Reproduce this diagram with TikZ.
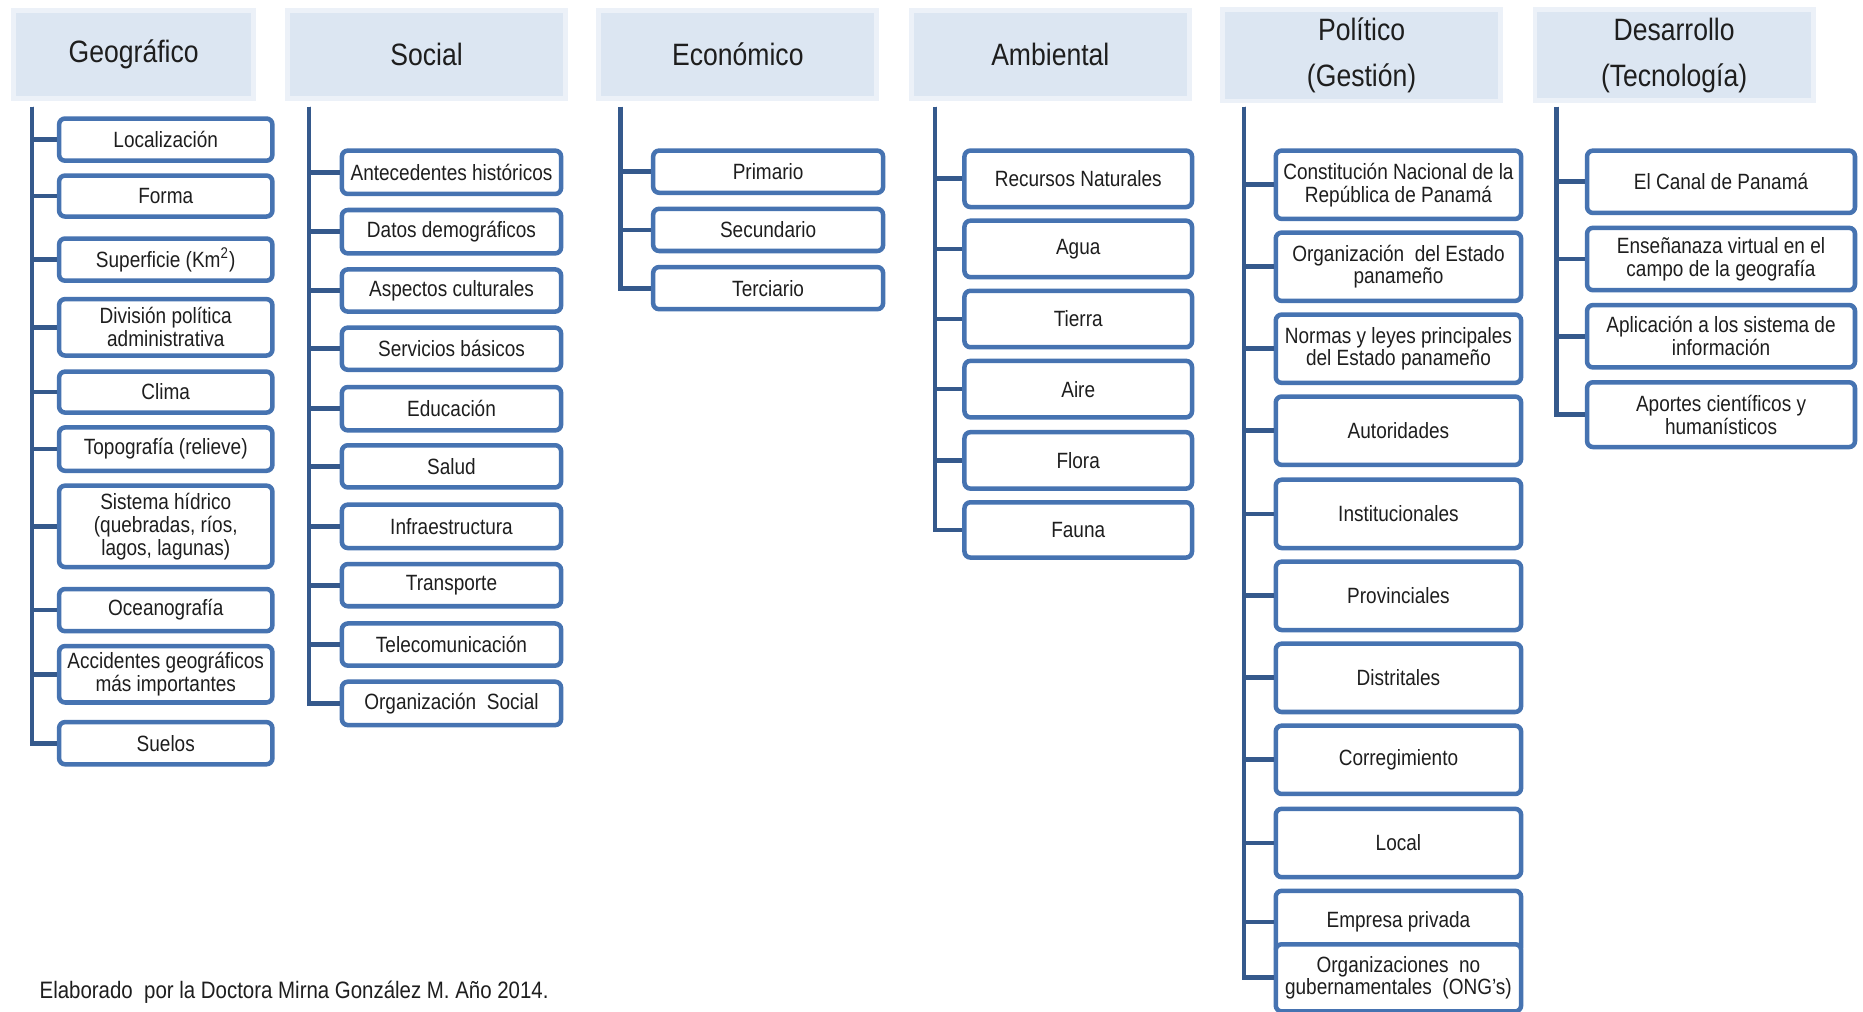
\documentclass[tikz,border=0pt]{standalone}
\usepackage{fontspec}
\setmainfont{Liberation Sans}[FakeStretch=0.86]
\definecolor{bxc}{HTML}{4673B1}
\definecolor{trc}{HTML}{35598C}
\definecolor{hdrc}{HTML}{DCE6F2}
\definecolor{txtc}{HTML}{1E1E1E}
\newcommand\bx[6]{\node[bxs, minimum width={(#3-#2-3.5)*0.5pt}, minimum height={(#5-#4-3.5)*0.5pt}] (#1) at ({(#2+#3)/2},{(#4+#5)/2}) {#6};}
\begin{document}
\begin{tikzpicture}[x=0.5pt,y=-0.5pt,
  bxs/.style={draw=bxc, line width=1.9pt, rounded corners=2.5pt, fill=white, align=center,
    inner sep=1pt, text=txtc, font=\fontsize{9.3}{9.6}\selectfont},
  hdr/.style={fill=hdrc, draw=hdrc!55!white, line width=2pt, align=center, text=txtc,
    minimum height=37pt, font=\fontsize{13}{19.5}\selectfont},
  tr/.style={draw=trc, line width=2pt, line join=miter}]
\useasboundingbox (0,0) rectangle (1568,851);
\clip (0,0) rectangle (1568,851);
\fill[white] (0,0) rectangle (1568,851);

% headers
\node[hdr, minimum width=101pt] (hG) at (112.5,46) {Geográfico};
\node[hdr, minimum width=117pt] (hS) at (359,46) {Social};
\node[hdr, minimum width=117pt] (hE) at (621,46) {Económico};
\node[hdr, minimum width=117pt] (hA) at (884,46) {Ambiental};
\node[hdr, minimum width=117pt] (hP) at (1146,46.5) {Político\\(Gestión)};
\node[hdr, minimum width=117pt] (hD) at (1409,46.5) {Desarrollo\\(Tecnología)};

% trunk tops
\coordinate (tG) at (27,90);
\coordinate (tS) at (260,90);
\coordinate (tE) at (522,90);
\coordinate (tA) at (787,90);
\coordinate (tP) at (1047,90);
\coordinate (tD) at (1310,90);

% Geográfico
\bx{g1}{48}{231}{98}{137}{Localización}
\bx{g2}{48}{231}{146}{184}{Forma}
\bx{g3}{48}{231}{199}{238}{Superficie (Km\textsuperscript{2})}
\bx{g4}{48}{231}{250}{301}{División política\\administrativa}
\bx{g5}{48}{231}{311}{349}{Clima}
\bx{g6}{48}{231}{358}{398}{Topografía (relieve)}
\bx{g7}{48}{231}{407}{479}{Sistema hídrico\\(quebradas, ríos,\\lagos, lagunas)}
\bx{g8}{48}{231}{494}{533}{Oceanografía}
\bx{g9}{48}{231}{542}{593}{Accidentes geográficos\\más importantes}
\bx{g10}{48}{231}{606}{645}{Suelos}
\foreach \i in {1,...,10} {\draw[tr] (tG) |- (g\i.west);}

% Social
\bx{s1}{286}{474}{125}{165}{Antecedentes históricos}
\bx{s2}{286}{474}{175}{215}{Datos demográficos}
\bx{s3}{286}{474}{225}{264}{Aspectos culturales}
\bx{s4}{286}{474}{274}{313}{Servicios básicos}
\bx{s5}{286}{474}{324}{364}{Educación}
\bx{s6}{286}{474}{373}{412}{Salud}
\bx{s7}{286}{474}{423}{463}{Infraestructura}
\bx{s8}{286}{474}{473}{512}{Transporte}
\bx{s9}{286}{474}{523}{562}{Telecomunicación}
\bx{s10}{286}{474}{572}{612}{Organización\ \ Social}
\foreach \i in {1,...,10} {\draw[tr] (tS) |- (s\i.west);}

% Económico
\bx{e1}{548}{745}{125}{164}{Primario}
\bx{e2}{548}{745}{174}{213}{Secundario}
\bx{e3}{548}{745}{223}{262}{Terciario}
\foreach \i in {1,...,3} {\draw[tr] (tE) |- (e\i.west);}

% Ambiental
\bx{a1}{810}{1005}{125}{176}{Recursos Naturales}
\bx{a2}{810}{1005}{184}{235}{Agua}
\bx{a3}{810}{1005}{243}{294}{Tierra}
\bx{a4}{810}{1005}{302}{353}{Aire}
\bx{a5}{810}{1005}{362}{413}{Flora}
\bx{a6}{810}{1005}{421}{471}{Fauna}
\foreach \i in {1,...,6} {\draw[tr] (tA) |- (a\i.west);}

% Político
\bx{p1}{1072}{1282}{125}{186}{Constitución Nacional de la\\República de Panamá}
\bx{p2}{1072}{1282}{194}{255}{Organización\ \ del Estado\\panameño}
\bx{p3}{1072}{1282}{263}{324}{Normas y leyes principales\\del Estado panameño}
\bx{p4}{1072}{1282}{332}{393}{Autoridades}
\bx{p5}{1072}{1282}{402}{463}{Institucionales}
\bx{p6}{1072}{1282}{471}{532}{Provinciales}
\bx{p7}{1072}{1282}{540}{601}{Distritales}
\bx{p8}{1072}{1282}{609}{670}{Corregimiento}
\bx{p9}{1072}{1282}{679}{740}{Local}
\bx{p10}{1072}{1282}{748}{804}{\raisebox{-2pt}{Empresa privada}}
\bx{p11}{1072}{1282}{793}{853}{Organizaciones\ \ no\\gubernamentales\ \ (ONG’s)}
\foreach \i in {1,...,11} {\draw[tr] (tP) |- (p\i.west);}

% Desarrollo
\bx{d1}{1334}{1563}{125}{181}{El Canal de Panamá}
\bx{d2}{1334}{1563}{190}{246}{Enseñanaza virtual en el\\campo de la geografía}
\bx{d3}{1334}{1563}{255}{311}{Aplicación a los sistema de\\información}
\bx{d4}{1334}{1563}{320}{378}{Aportes científicos y\\humanísticos}
\foreach \i in {1,...,4} {\draw[tr] (tD) |- (d\i.west);}

% footer
\node[anchor=west, text=txtc, font=\fontsize{10}{12}\selectfont, inner sep=0pt] (foot) at (33,835) {Elaborado\ \ por la Doctora Mirna González M. Año 2014.};
\end{tikzpicture}
\end{document}
